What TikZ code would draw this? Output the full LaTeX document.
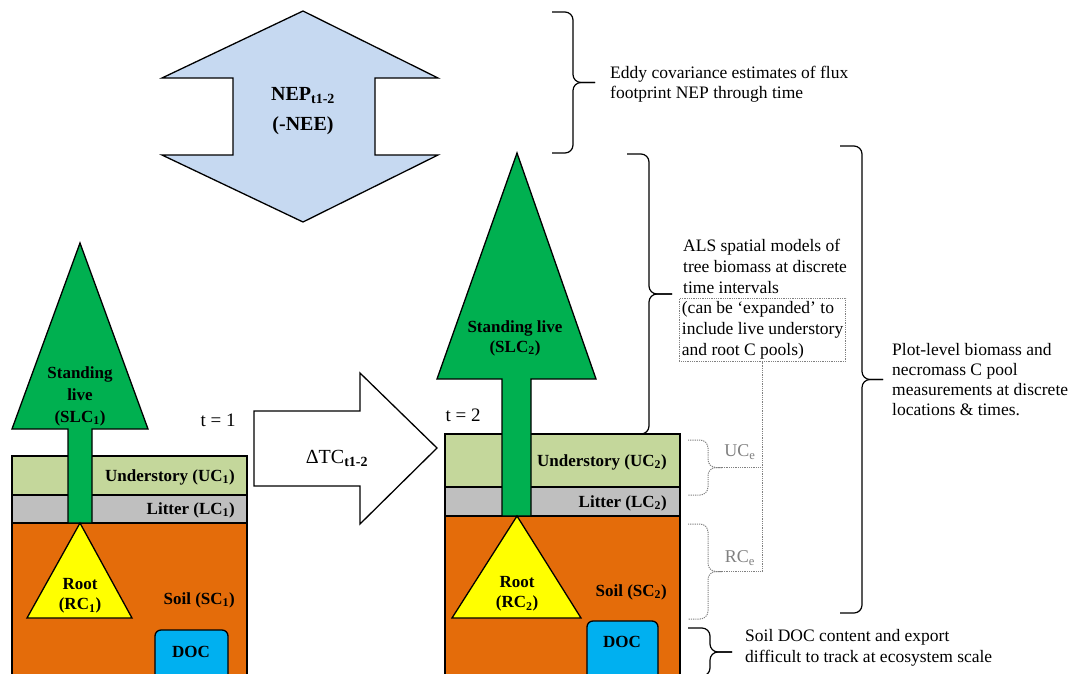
\documentclass[tikz,border=0pt]{standalone}
\usepackage{fontspec}
\setmainfont{Liberation Serif}
\usepackage{tikz}
\definecolor{TreeGreen}{RGB}{0,176,80}
\definecolor{UnderGreen}{RGB}{196,215,155}
\definecolor{LitterGray}{RGB}{191,191,191}
\definecolor{SoilOrange}{RGB}{228,108,10}
\definecolor{RootYellow}{RGB}{255,255,0}
\definecolor{DocBlue}{RGB}{0,176,240}
\definecolor{NepBlue}{RGB}{198,217,241}
\definecolor{DotGray}{RGB}{128,128,128}
% curly bracket: [options]{end x}{spine x}{tip x}{top y}{bottom y}
\newcommand{\curly}[6][]{%
    \draw[bracket,#1] (#2,#5) -- (#3,#5) -- (#3,{(#5+#6)/2}) -- (#4,{(#5+#6)/2});
    \draw[bracket,#1] (#4,{(#5+#6)/2}) -- (#3,{(#5+#6)/2}) -- (#3,#6) -- (#2,#6);}

\begin{document}
\begin{tikzpicture}[x=1pt, y=-1pt,
    outline/.style={draw=black, line width=1.3pt, line join=miter},
    lbl/.style={font=\fontsize{17}{20}\selectfont\bfseries, inner sep=0pt, align=center},
    note/.style={font=\fontsize{17.5}{20.5}\selectfont, inner sep=0pt, align=left},
    tlbl/.style={font=\fontsize{19}{22}\selectfont, inner sep=0pt},
    bracket/.style={line width=1.2pt, rounded corners=8pt},
    dotbracket/.style={draw=DotGray, densely dotted, line width=1pt},
    dotline/.style={draw=DotGray, densely dotted, line width=0.8pt}]
    \clip (0,0) rectangle (1073,673);
    %%Flux arrow (NEP)
    \draw[outline, fill=NepBlue] (303,11) -- (438,78) -- (375,78) -- (375,155) -- (438,155)
        -- (303,222) -- (162,155) -- (233,155) -- (233,78) -- (162,78) -- cycle;
    \node[lbl, font=\fontsize{20}{30}\selectfont\bfseries] (nep) at (303,111) {NEP\textsubscript{t1-2}\\(-NEE)};
    %%Time 1 pools
    \draw[outline, fill=UnderGreen] (12,456) rectangle (247,495);
    \draw[outline, fill=LitterGray] (12,495) rectangle (247,523);
    \draw[outline, fill=SoilOrange] (12,523) rectangle (247,690);
    \draw[outline, fill=TreeGreen] (80,243) -- (148,429) -- (92,429) -- (92,523) -- (68,523)
        -- (68,429) -- (12,429) -- cycle;
    \draw[outline, fill=RootYellow] (80,523) -- (132,618) -- (27,618) -- cycle;
    \draw[outline, fill=DocBlue, rounded corners=6pt] (155,630) rectangle (228,690);
    \node[lbl, font=\fontsize{17}{22}\selectfont\bfseries] (slc1) at (80,396) {Standing\\live\\(SLC\textsubscript{1})};
    \node[lbl, anchor=east] (uc1) at (235,477) {Understory (UC\textsubscript{1})};
    \node[lbl, anchor=east] (lc1) at (235,510) {Litter (LC\textsubscript{1})};
    \node[lbl, anchor=east] (sc1) at (235,600) {Soil (SC\textsubscript{1})};
    \node[lbl] (rc1) at (80,596) {Root\\(RC\textsubscript{1})};
    \node[lbl] (doc1) at (191,652) {DOC};
    \node[tlbl] (t1) at (218,420) {t = 1};
    %%Change arrow
    \draw[outline, fill=white] (254,411) -- (360,411) -- (360,373) -- (437,448) -- (360,524)
        -- (360,486) -- (254,486) -- cycle;
    \node[tlbl, font=\fontsize{20}{24}\selectfont] (dtc) at (337,458) {ΔTC\textsubscript{\bfseries t1-2}};
    %%Time 2 pools
    \draw[outline, fill=UnderGreen] (445,434) rectangle (680,487);
    \draw[outline, fill=LitterGray] (445,487) rectangle (680,516);
    \draw[outline, fill=SoilOrange] (445,516) rectangle (680,690);
    \draw[outline, fill=TreeGreen] (517,153) -- (596,379) -- (531,379) -- (531,516) -- (502,516)
        -- (502,379) -- (437,379) -- cycle;
    \draw[outline, fill=RootYellow] (517,516) -- (581,618) -- (452,618) -- cycle;
    \draw[outline, fill=DocBlue, rounded corners=6pt] (587,621) rectangle (658,690);
    \node[lbl] (slc2) at (515,338) {Standing live\\(SLC\textsubscript{2})};
    \node[lbl, anchor=east] (uc2) at (667,462) {Understory (UC\textsubscript{2})};
    \node[lbl, anchor=east] (lc2) at (667,503) {Litter (LC\textsubscript{2})};
    \node[lbl, anchor=east] (sc2) at (667,592) {Soil (SC\textsubscript{2})};
    \node[lbl] (rc2) at (517,594) {Root\\(RC\textsubscript{2})};
    \node[lbl] (doc2) at (622,642) {DOC};
    \node[tlbl] (t2) at (463,415) {t = 2};
    %%Eddy covariance
    \curly{552}{573}{595}{12}{153}
    \node[note, anchor=west] (eddy) at (610,84) {Eddy covariance estimates of flux\\footprint NEP through time};
    %%ALS models
    \curly{627}{649}{672}{154}{434}
    \node[note, anchor=north west, font=\fontsize{17.5}{21}\selectfont] (als) at (683,239) {ALS spatial models of\\tree biomass at discrete\\time intervals};
    \node[note, anchor=north west, font=\fontsize{17.5}{21}\selectfont, draw=DotGray, densely dotted,
        line width=0.8pt, inner sep=2.5pt] (expbox) at (679,298) {(can be `expanded' to\\include live understory\\and root C pools)};
    %%Expanded pools
    \curly[dotbracket]{688}{708}{722}{440}{495}
    \curly[dotbracket]{688}{708}{722}{524}{619}
    \coordinate (uctip) at (722,467.5);
    \coordinate (rctip) at (722,571.5);
    \node[tlbl, font=\fontsize{18}{20}\selectfont, text=DotGray] (uce) at (740,452) {UC\textsubscript{e}};
    \node[tlbl, font=\fontsize{18}{20}\selectfont, text=DotGray] (rce) at (740,558) {RC\textsubscript{e}};
    \draw[dotline] (rctip) -| (expbox.south);
    \draw[dotline] (uctip) -- (uctip -| expbox.south);
    %%Plot-level
    \curly{840}{862}{883}{146}{613}
    \node[note, anchor=west, font=\fontsize{17.5}{20}\selectfont] (plot) at (892,380) {Plot-level biomass and\\necromass C pool\\measurements at discrete\\locations \& times.};
    %%Soil DOC
    \curly{688}{710}{732}{628}{676}
    \node[note, anchor=west] (docnote) at (745,648) {Soil DOC content and export\\difficult to track at ecosystem scale};
\end{tikzpicture}
\end{document}
